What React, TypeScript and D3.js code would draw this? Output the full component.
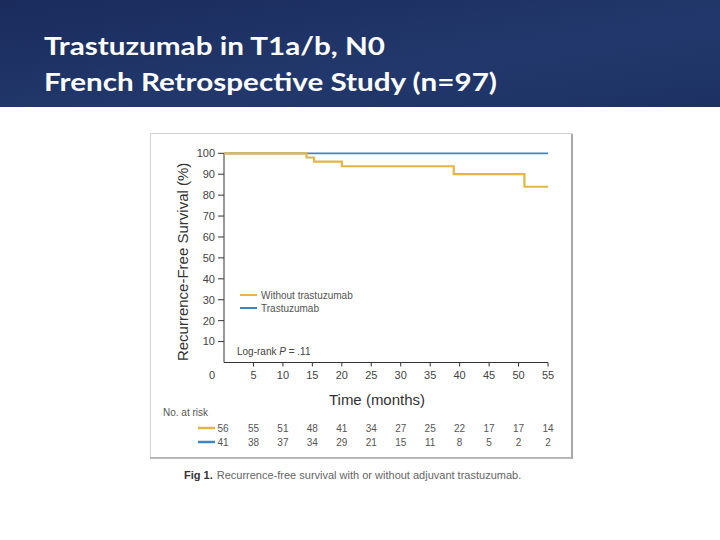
import React from "react";
import * as d3 from "d3";

const timeTicks = [0, 5, 10, 15, 20, 25, 30, 35, 40, 45, 50, 55];
const survivalTicks = [10, 20, 30, 40, 50, 60, 70, 80, 90, 100];
const withoutTimes = [0, 14, 15.3, 20, 39, 51, 55];
const withoutValues = [100, 98, 96, 93.8, 90, 84, 84];
const trastTimes = [0, 55];
const trastValues = [100, 100];
const riskWithout = [56, 55, 51, 48, 41, 34, 27, 25, 22, 17, 17, 14];
const riskTrast = [41, 38, 37, 34, 29, 21, 15, 11, 8, 5, 2, 2];
const seriesNames = ["Without trastuzumab", "Trastuzumab"];
const titleLines = ["Trastuzumab in T1a/b, N0", "French Retrospective Study (n=97)"];

const YELLOW = "#e2b545";
const BLUE = "#3c88c4";
const TXT = "#444";
const FONT = "'Liberation Sans', Arial, sans-serif";

export default function App() {
  const x = d3.scaleLinear().domain([0, 55]).range([224, 548]);
  const y = d3.scaleLinear().domain([0, 100]).range([362.5, 153.3]);
  const line = d3
    .line<[number, number]>()
    .x((d) => x(d[0]))
    .y((d) => y(d[1]))
    .curve(d3.curveStepAfter);
  const withoutPts: [number, number][] = withoutTimes.map((t, i) => [t, withoutValues[i]]);
  const trastPts: [number, number][] = trastTimes.map((t, i) => [t, trastValues[i]]);

  return (
    <svg
      width={720}
      height={540}
      style={{ position: "absolute", left: 0, top: 0, display: "block" }}
      fontFamily={FONT}
    >
      <defs>
        <linearGradient id="hdr" x1="0" y1="0" x2="1" y2="1">
          <stop offset="0" stopColor="#1a2b5c" />
          <stop offset="0.6" stopColor="#22386c" />
          <stop offset="1" stopColor="#1d3163" />
        </linearGradient>
      </defs>
      <rect x={0} y={0} width={720} height={540} fill="#fff" />
      <rect x={0} y={0} width={720} height={107} fill="url(#hdr)" />
      {titleLines.map((t, i) => (
        <text
          key={i}
          x={44}
          y={55 + i * 36}
          fill="#fff"
          fontFamily="Lato, 'Open Sans', sans-serif"
          fontWeight={700}
          fontSize={24}
          textLength={i === 0 ? 341 : 453}
          lengthAdjust="spacingAndGlyphs"
        >
          {t}
        </text>
      ))}

      {/* frame */}
      <rect x={150.5} y={133.5} width={421} height={324} fill="#fff" stroke="#d4d4d4" strokeWidth={1} />
      <line x1={572} y1={134} x2={572} y2={459} stroke="#a8a8a8" strokeWidth={2} />
      <line x1={150} y1={458} x2={573} y2={458} stroke="#a8a8a8" strokeWidth={1.5} />

      {/* axes */}
      <line x1={224} y1={y(100)} x2={224} y2={y(0)} stroke="#333" strokeWidth={1} />
      <line x1={224} y1={y(0)} x2={x(55)} y2={y(0)} stroke="#333" strokeWidth={1} />
      {survivalTicks.map((v) => (
        <g key={v}>
          <line x1={218} x2={224} y1={y(v)} y2={y(v)} stroke="#333" />
          <text x={215} y={y(v)} dy="0.35em" textAnchor="end" fontSize={11} fill={TXT}>
            {v}
          </text>
        </g>
      ))}
      {timeTicks.map((t) => (
        <g key={t}>
          {t > 0 && <line x1={x(t)} x2={x(t)} y1={y(0)} y2={y(0) + 4} stroke="#333" />}
          <text
            x={t === 0 ? x(t) - 12 : x(t)}
            y={379}
            textAnchor="middle"
            fontSize={11}
            fill={TXT}
          >
            {t}
          </text>
        </g>
      ))}
      <text
        transform={`translate(188,${(y(0) + y(100)) / 2 + 4}) rotate(-90)`}
        textAnchor="middle"
        fontSize={15}
        fill="#333"
      >
        Recurrence-Free Survival (%)
      </text>
      <text x={377} y={405} textAnchor="middle" fontSize={15} fill="#333">
        Time (months)
      </text>

      {/* curves */}
      <path d={line(trastPts) || ""} fill="none" stroke={BLUE} strokeWidth={1.8} />
      <path d={line(withoutPts) || ""} fill="none" stroke={YELLOW} strokeWidth={2.2} />

      {/* legend */}
      {seriesNames.map((n, i) => (
        <g key={n}>
          <line x1={240} x2={257} y1={295 + i * 13} y2={295 + i * 13} stroke={i === 0 ? YELLOW : BLUE} strokeWidth={2} />
          <text x={261} y={295 + i * 13} dy="0.35em" fontSize={10} fill="#555">
            {n}
          </text>
        </g>
      ))}
      <text x={237} y={355} fontSize={10} fill="#444">
        Log-rank <tspan fontStyle="italic">P</tspan> = .11
      </text>

      {/* risk table */}
      <text x={163} y={416} fontSize={10} fill="#555">
        No. at risk
      </text>
      <line x1={198} x2={215} y1={428} y2={428} stroke={YELLOW} strokeWidth={2.5} />
      <line x1={198} x2={215} y1={442} y2={442} stroke={BLUE} strokeWidth={2.5} />
      {riskWithout.map((v, i) => (
        <text key={"w" + i} x={x(timeTicks[i]) + (i === 0 ? -1 : 0)} y={428} dy="0.35em" textAnchor="middle" fontSize={10} fill="#555">
          {v}
        </text>
      ))}
      {riskTrast.map((v, i) => (
        <text key={"t" + i} x={x(timeTicks[i]) + (i === 0 ? -1 : 0)} y={442} dy="0.35em" textAnchor="middle" fontSize={10} fill="#555">
          {v}
        </text>
      ))}

      {/* caption */}
      <text x={184} y={479} fontSize={11} fill="#666">
        <tspan fontWeight={700} fill="#333">Fig 1.</tspan>
        <tspan dx={4}>Recurrence-free survival with or without adjuvant trastuzumab.</tspan>
      </text>
    </svg>
  );
}
